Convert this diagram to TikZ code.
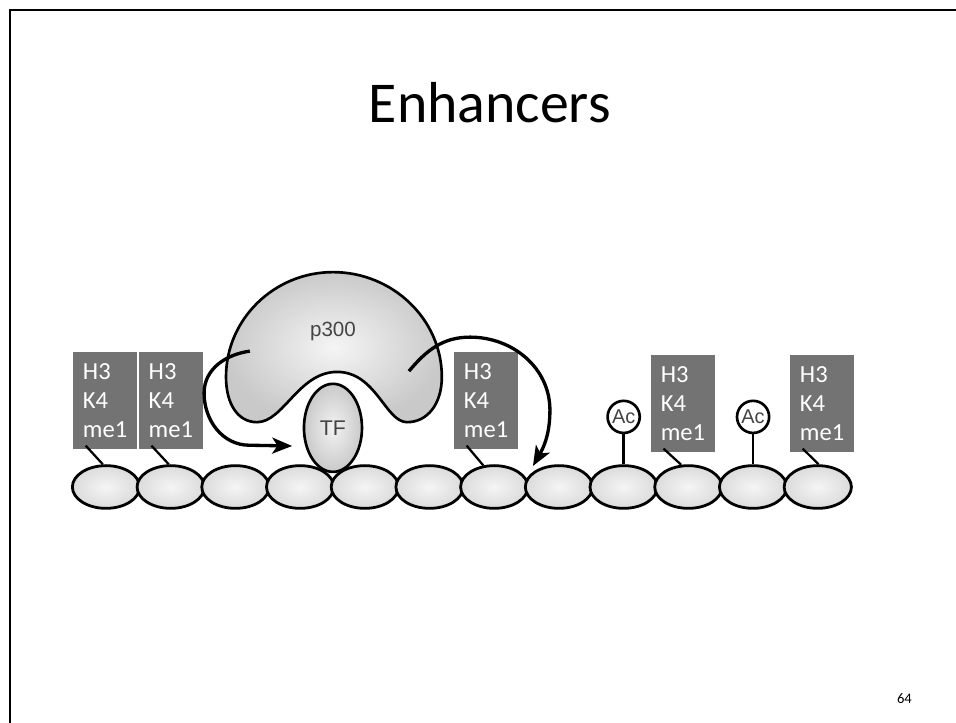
\documentclass[tikz,border=0pt]{standalone}
\usepackage{fontspec}
\setmainfont{Carlito}
\newfontfamily\figfont{Liberation Sans}
\usepackage{tikz}
\usetikzlibrary{arrows.meta,shapes.geometric}
\definecolor{markgray}{HTML}{737373}
\definecolor{figtext}{HTML}{444444}
\tikzset{
  nuc/.style={ellipse,draw=black,line width=2.1pt,inner color=gray!8,outer color=gray!28,minimum width=1.78cm,minimum height=1.13cm,inner sep=0pt},
  me1box/.style={rectangle,fill=markgray,text=white,minimum width=1.693cm,minimum height=2.566cm,inner xsep=0.26cm,inner ysep=0pt,text width=1.17cm,align=left,font=\fontsize{18.5}{21.8}\selectfont},
  acbox/.style={circle,draw=black,fill=white,line width=2pt,minimum size=0.85cm,inner sep=0pt,font=\figfont\fontsize{15}{15}\selectfont,text=figtext},
  tail/.style={black,line width=1.7pt},
  stem/.style={black,line width=2pt},
  curve/.style={black,line width=2.5pt}
}
\begin{document}
\begin{tikzpicture}
\useasboundingbox (0,0) rectangle (25.294,-19.129);
\draw[black,line width=1.5pt] (25.294,-0.26) -- (0.26,-0.26) -- (0.26,-19.129);
\node[anchor=base,font=\fontsize{43.5}{50}\selectfont] (title) at (12.96,-3.24) {Enhancers};
\node[anchor=base,font=\fontsize{11}{13}\selectfont] (page) at (23.93,-18.60) {64};
% the bound enzyme
\draw[black,line width=2pt,inner color=gray!8,outer color=gray!42] (5.98,-9.97)
  .. controls (5.98,-8.45) and (7.25,-7.20) .. (8.81,-7.20)
  .. controls (10.39,-7.20) and (11.69,-8.45) .. (11.69,-9.97)
  .. controls (11.69,-10.70) and (11.30,-11.17) .. (10.77,-11.17)
  .. controls (10.20,-11.17) and (9.95,-9.84) .. (8.92,-9.84)
  .. controls (7.90,-9.84) and (7.50,-11.17) .. (6.80,-11.17)
  .. controls (6.30,-11.17) and (5.98,-10.70) .. (5.98,-9.97) -- cycle;
\node[font=\figfont\fontsize{15.5}{16}\selectfont,text=figtext] (p300) at (8.81,-8.76) {p300};
% chain of nucleosomes
\node[nuc] (n1) at (2.805,-12.885) {};
\node[nuc] (n2) at (4.517,-12.885) {};
\node[nuc] (n3) at (6.229,-12.885) {};
\node[nuc] (n4) at (7.941,-12.885) {};
\node[nuc] (n5) at (9.653,-12.885) {};
\node[nuc] (n6) at (11.365,-12.885) {};
\node[nuc] (n7) at (13.077,-12.885) {};
\node[nuc] (n8) at (14.789,-12.885) {};
\node[nuc] (n9) at (16.501,-12.885) {};
\node[nuc] (n10) at (18.213,-12.885) {};
\node[nuc] (n11) at (19.925,-12.885) {};
\node[nuc] (n12) at (21.637,-12.885) {};
\node[ellipse,draw=black,line width=2pt,inner color=gray!10,outer color=gray!42,minimum width=1.535cm,minimum height=2.33cm,inner sep=0pt,font=\figfont\fontsize{16}{16}\selectfont,text=figtext] (tf) at (8.81,-11.32) {TF};
% acetyl marks
\node[acbox] (ac1) at (16.501,-11.03) {Ac};
\node[acbox] (ac2) at (19.925,-11.03) {Ac};
\draw[stem] (ac1) -- (n9);
\draw[stem] (ac2) -- (n11);
% methyl marks
\node[me1box] (m1) at (2.78,-10.60) {H3\\K4\\me1};
\node[me1box] (m2) at (4.52,-10.60) {H3\\K4\\me1};
\node[me1box] (m3) at (12.86,-10.60) {H3\\K4\\me1};
\node[me1box] (m4) at (18.07,-10.68) {H3\\K4\\me1};
\node[me1box] (m5) at (21.75,-10.68) {H3\\K4\\me1};
\draw[tail] ([xshift=0.34cm,yshift=0.10cm]m1.south west) -- (n1.98);
\draw[tail] ([xshift=0.34cm,yshift=0.10cm]m2.south west) -- (n2.95);
\draw[tail] ([xshift=0.34cm,yshift=0.10cm]m3.south west) -- (n7.117);
\draw[tail] ([xshift=0.34cm,yshift=0.10cm]m4.south west) -- (n10.108);
\draw[tail] ([xshift=0.34cm,yshift=0.10cm]m5.south west) -- (n12.88);
% the two curved arrows
\coordinate (a1) at (6.61,-9.29);
\coordinate (a2) at (5.40,-10.40);
\coordinate (a3) at (6.60,-11.78);
\coordinate (a4) at (7.73,-11.80);
\coordinate (b1) at (10.82,-9.82);
\coordinate (b2) at (12.44,-8.92);
\coordinate (b3) at (14.55,-10.85);
\coordinate (b4) at (14.10,-12.33);
\draw[curve,-{Stealth[length=15pt,width=12pt,inset=4pt]}] (a1) to [out=188,in=90] (a2) to [out=270,in=180] (a3) -- (a4);
\draw[curve,-{Stealth[length=15pt,width=12pt,inset=4pt]}] (b1) to [out=50,in=180] (b2) to [out=0,in=90] (b3) to [out=270,in=60] (b4);
\end{tikzpicture}
\end{document}
